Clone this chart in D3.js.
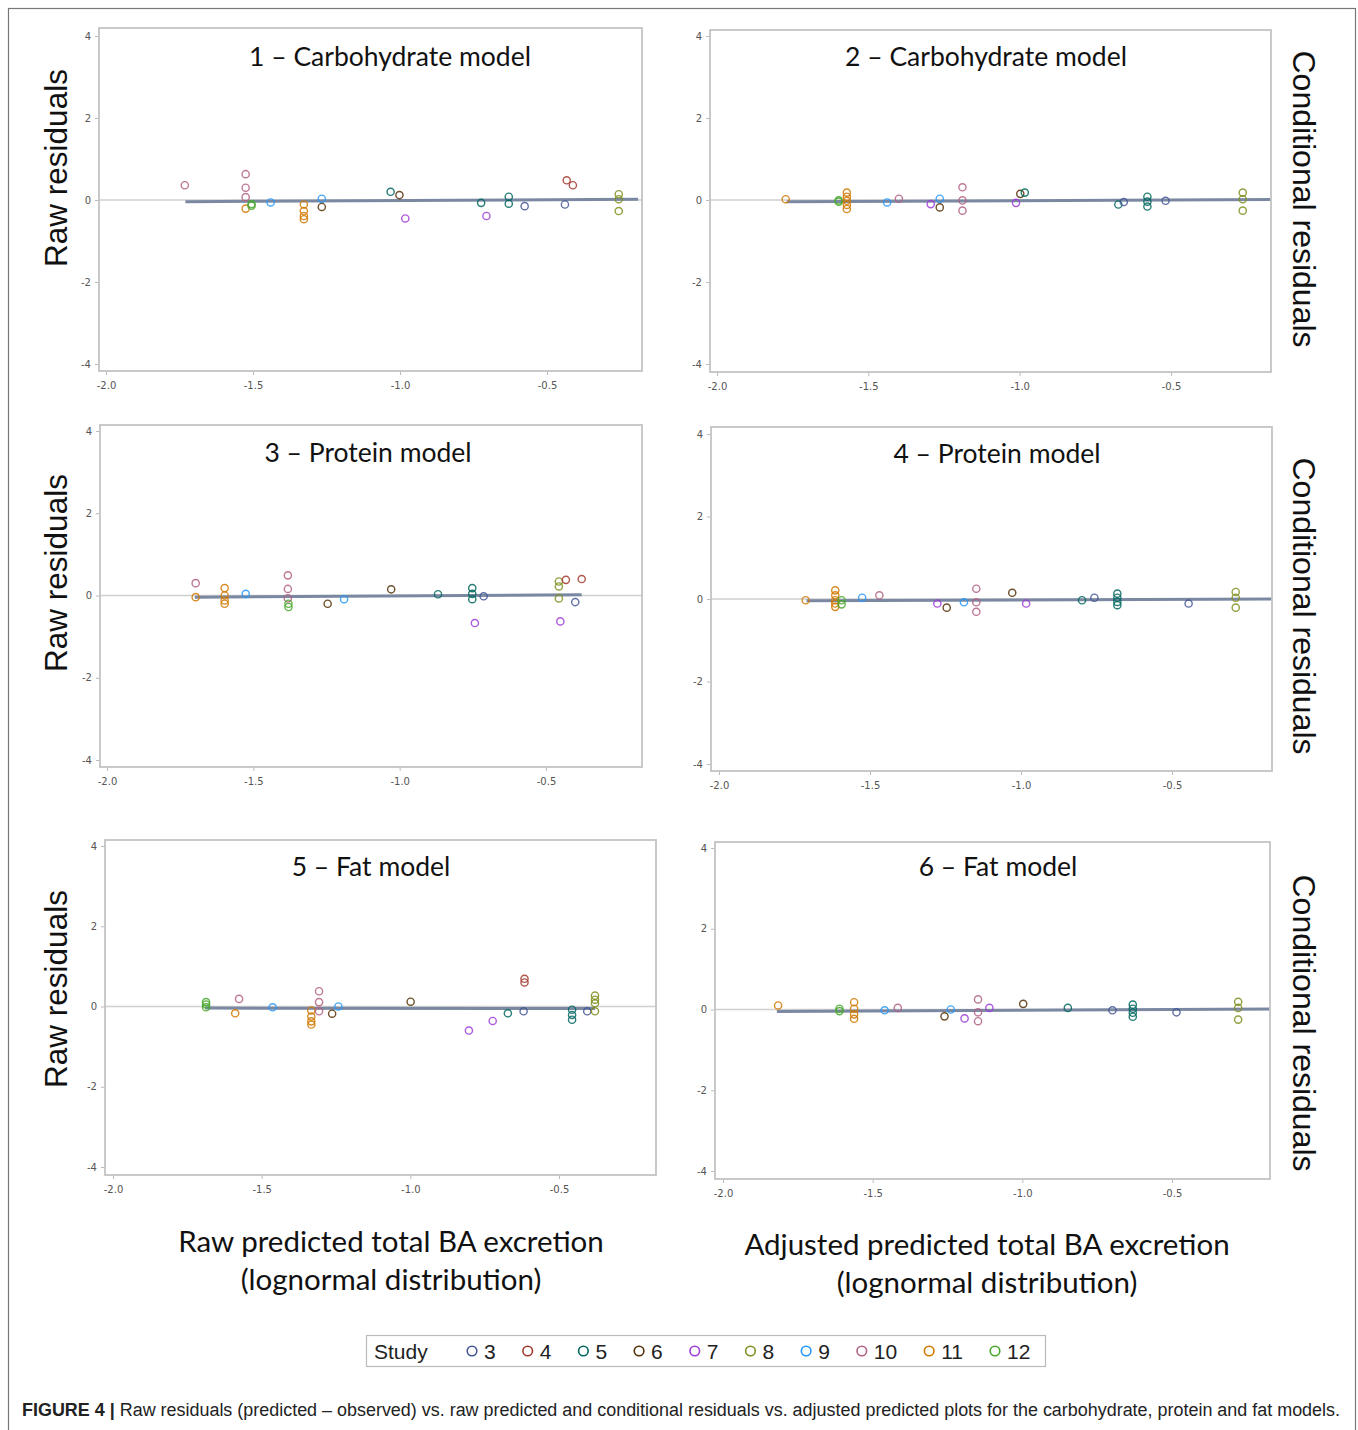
<!DOCTYPE html>
<html>
<head>
<meta charset="utf-8">
<script src="https://cdn.jsdelivr.net/npm/d3@7"></script>
<style>
  body { margin: 0; background: #fff; }
  svg { display: block; }
</style>
</head>
<body>
<svg id="figure" width="1358" height="1430"></svg>
<script>
// study legend + SAS default marker colours
const studies = [3, 4, 5, 6, 7, 8, 9, 10, 11, 12];
const studyColors = ["#445694", "#a23a2e", "#01665e", "#543005", "#9d3cdb",
  "#7f8e1f", "#2597fa", "#b26084", "#d17800", "#47a82a"];

const xTicks = [-2.0, -1.5, -1.0, -0.5];
const yTicks = [4, 2, 0, -2, -4];

const panelTitles = ["1 \u2013 Carbohydrate model", "2 \u2013 Carbohydrate model",
  "3 \u2013 Protein model", "4 \u2013 Protein model",
  "5 \u2013 Fat model", "6 \u2013 Fat model"];

// [study, predicted, residual]
const carbRaw = [
  [10, -1.732, 0.36], [10, -1.525, 0.63], [10, -1.525, 0.30], [10, -1.525, 0.07],
  [11, -1.525, -0.21], [12, -1.505, -0.10], [12, -1.505, -0.14], [9, -1.44, -0.06],
  [11, -1.327, -0.11], [11, -1.327, -0.27], [11, -1.327, -0.39], [11, -1.327, -0.47],
  [9, -1.266, 0.03], [6, -1.266, -0.17], [5, -1.032, 0.20], [6, -1.002, 0.12],
  [7, -0.982, -0.45], [5, -0.724, -0.07], [7, -0.706, -0.39], [5, -0.63, 0.08],
  [5, -0.63, -0.09], [3, -0.576, -0.15], [3, -0.439, -0.11], [4, -0.433, 0.48],
  [4, -0.412, 0.36], [8, -0.256, 0.14], [8, -0.256, 0.02], [8, -0.256, -0.27]
];
const carbAdj = [
  [11, -1.773, 0.02], [12, -1.598, -0.01], [12, -1.598, -0.04], [11, -1.571, 0.18],
  [11, -1.571, 0.08], [11, -1.571, -0.02], [11, -1.571, -0.12], [11, -1.571, -0.22],
  [9, -1.438, -0.06], [10, -1.399, 0.03], [7, -1.294, -0.10], [9, -1.264, 0.03],
  [6, -1.264, -0.18], [10, -1.189, 0.31], [10, -1.189, -0.01], [10, -1.189, -0.26],
  [7, -1.012, -0.07], [6, -0.998, 0.15], [5, -0.983, 0.18], [5, -0.674, -0.11],
  [3, -0.656, -0.05], [5, -0.578, 0.08], [5, -0.578, -0.04], [5, -0.578, -0.16],
  [3, -0.518, -0.02], [8, -0.263, 0.18], [8, -0.263, 0.02], [8, -0.263, -0.26]
];
const protRaw = [
  [10, -1.697, 0.30], [11, -1.697, -0.04], [11, -1.598, 0.18], [11, -1.598, 0.0],
  [11, -1.598, -0.12], [11, -1.598, -0.20], [9, -1.526, 0.04], [10, -1.382, 0.49],
  [10, -1.382, 0.16], [10, -1.382, -0.07], [12, -1.38, -0.20], [12, -1.38, -0.28],
  [6, -1.246, -0.20], [9, -1.19, -0.09], [6, -1.029, 0.15], [5, -0.869, 0.03],
  [5, -0.752, 0.18], [5, -0.752, 0.04], [5, -0.752, -0.09], [7, -0.743, -0.67],
  [3, -0.713, -0.02], [8, -0.456, 0.34], [8, -0.456, 0.22], [8, -0.456, -0.07],
  [7, -0.451, -0.63], [4, -0.432, 0.38], [3, -0.40, -0.16], [4, -0.378, 0.40]
];
const protAdj = [
  [11, -1.713, -0.03], [11, -1.615, 0.21], [11, -1.615, 0.09], [11, -1.615, -0.03],
  [11, -1.615, -0.11], [11, -1.615, -0.19], [12, -1.594, -0.03], [12, -1.594, -0.13],
  [9, -1.526, 0.03], [10, -1.469, 0.09], [7, -1.277, -0.11], [6, -1.246, -0.21],
  [9, -1.189, -0.08], [10, -1.148, 0.25], [10, -1.148, -0.08], [10, -1.148, -0.31],
  [6, -1.029, 0.15], [7, -0.983, -0.11], [5, -0.798, -0.03], [3, -0.757, 0.03],
  [5, -0.681, 0.13], [5, -0.681, 0.03], [5, -0.681, -0.07], [5, -0.681, -0.15],
  [3, -0.445, -0.11], [8, -0.289, 0.17], [8, -0.289, 0.03], [8, -0.289, -0.21]
];
const fatRaw = [
  [12, -1.687, 0.11], [12, -1.687, 0.05], [12, -1.687, -0.02], [10, -1.576, 0.19],
  [11, -1.589, -0.17], [9, -1.463, -0.02], [11, -1.333, -0.10], [11, -1.333, -0.25],
  [11, -1.333, -0.37], [11, -1.333, -0.45], [10, -1.307, 0.38], [10, -1.307, 0.11],
  [10, -1.307, -0.12], [6, -1.263, -0.18], [9, -1.242, 0.0], [6, -0.999, 0.12],
  [7, -0.803, -0.60], [7, -0.723, -0.36], [5, -0.672, -0.17], [4, -0.616, 0.69],
  [4, -0.616, 0.60], [3, -0.619, -0.12], [5, -0.456, -0.08], [5, -0.456, -0.21],
  [5, -0.456, -0.33], [3, -0.405, -0.12], [8, -0.379, 0.27], [8, -0.379, 0.17],
  [8, -0.379, 0.08], [8, -0.379, -0.12]
];
const fatAdj = [
  [11, -1.816, 0.10], [12, -1.611, 0.02], [12, -1.611, -0.04], [11, -1.562, 0.18],
  [11, -1.562, 0.02], [11, -1.562, -0.12], [11, -1.562, -0.23], [9, -1.46, -0.02],
  [10, -1.416, 0.04], [6, -1.26, -0.17], [9, -1.239, 0.0], [7, -1.193, -0.22],
  [10, -1.148, 0.25], [10, -1.148, -0.07], [10, -1.148, -0.29], [7, -1.11, 0.04],
  [6, -0.997, 0.14], [5, -0.848, 0.04], [3, -0.699, -0.02], [5, -0.631, 0.12],
  [5, -0.631, 0.02], [5, -0.631, -0.08], [5, -0.631, -0.18], [3, -0.485, -0.07],
  [8, -0.279, 0.19], [8, -0.279, 0.04], [8, -0.279, -0.25]
];

// fitted line end points [[x0, y0], [x1, y1]]
const fitLines = [
  [[-1.73, -0.04], [-0.19, 0.02]],
  [[-1.77, -0.04], [-0.17, 0.01]],
  [[-1.70, -0.04], [-0.378, 0.02]],
  [[-1.71, -0.04], [-0.17, 0.0]],
  [[-1.69, -0.04], [-0.379, -0.05]],
  [[-1.82, -0.05], [-0.17, 0.01]]
];

const legendTitle = "Study";
const leftLabel = "Raw residuals";
const rightLabel = "Conditional residuals";
const bottomLeftLabel = ["Raw predicted total BA excretion", "(lognormal distribution)"];
const bottomRightLabel = ["Adjusted predicted total BA excretion", "(lognormal distribution)"];
const captionBold = "FIGURE 4 |";
const captionText = " Raw residuals (predicted \u2013 observed) vs. raw predicted and conditional residuals vs. adjusted predicted plots for the carbohydrate, protein and fat models.";

// layout: frame = [left, top, right, bottom], xr = px of -2 / -0.5, yr = px of 4 / -4,
// title centre/baseline, row label vertical centre
const panels = [
  { data: carbRaw, frame: [99, 28, 642, 371], xr: [106, 547], yr: [36, 364], tx: 390, ty: 66, ly: 168 },
  { data: carbAdj, frame: [710, 30, 1271, 372], xr: [717, 1171], yr: [36, 364], tx: 986, ty: 66, ly: 199 },
  { data: protRaw, frame: [100, 425, 642, 767], xr: [107, 546], yr: [431, 760], tx: 368, ty: 462, ly: 573 },
  { data: protAdj, frame: [711, 427, 1272, 771], xr: [719, 1172], yr: [434, 764], tx: 997, ty: 463, ly: 606 },
  { data: fatRaw, frame: [105, 840, 656, 1175], xr: [113, 559], yr: [846, 1167], tx: 371, ty: 876, ly: 989 },
  { data: fatAdj, frame: [715, 842, 1270, 1179], xr: [723, 1172], yr: [848, 1171], tx: 998, ty: 876, ly: 1023 }
];

const colorOf = d3.scaleOrdinal().domain(studies).range(studyColors);
const svg = d3.select("#figure");

// outer figure border
svg.append("rect")
  .attr("x", 8.5).attr("y", 8.5)
  .attr("width", 1347).attr("height", 1440)
  .attr("fill", "none")
  .attr("stroke", "#777")
  .attr("stroke-width", 1.2);

function drawPanel(p, i) {
  const [l, t, r, b] = p.frame;
  const x = d3.scaleLinear().domain([-2, -0.5]).range(p.xr);
  const y = d3.scaleLinear().domain([4, -4]).range(p.yr);
  const g = svg.append("g");

  g.append("clipPath").attr("id", `clip${i}`)
    .append("rect").attr("x", l).attr("y", t).attr("width", r - l).attr("height", b - t);

  // axes, no domain line (frame drawn below)
  const yAxis = g.append("g")
    .attr("transform", `translate(${l},0)`)
    .call(d3.axisLeft(y).tickValues(yTicks).tickSize(4).tickPadding(4).tickFormat((d) => String(d)));
  const xAxis = g.append("g")
    .attr("transform", `translate(0,${b})`)
    .call(d3.axisBottom(x).tickValues(xTicks).tickSize(4).tickPadding(7).tickFormat((d) => d.toFixed(1)));
  [yAxis, xAxis].forEach((ax) => {
    ax.select(".domain").remove();
    ax.selectAll("line").attr("stroke", "#bbb");
    ax.selectAll("text")
      .attr("fill", "#555")
      .style("font-family", "DejaVu Sans, sans-serif")
      .style("font-size", "10px");
  });

  // zero reference line
  g.append("line")
    .attr("x1", l).attr("x2", r)
    .attr("y1", y(0)).attr("y2", y(0))
    .attr("stroke", "#cfcfcf")
    .attr("stroke-width", 1.6);

  // fitted line
  g.append("path")
    .datum(fitLines[i])
    .attr("clip-path", `url(#clip${i})`)
    .attr("d", d3.line().x((d) => x(d[0])).y((d) => y(d[1])))
    .attr("fill", "none")
    .attr("stroke", "#7a88a2")
    .attr("stroke-width", 3);

  // residual markers
  g.append("g")
    .attr("clip-path", `url(#clip${i})`)
    .selectAll("circle")
    .data(p.data)
    .enter()
    .append("circle")
    .attr("cx", (d) => x(d[1]))
    .attr("cy", (d) => y(d[2]))
    .attr("r", 3.6)
    .attr("fill", "none")
    .attr("stroke", (d) => colorOf(d[0]))
    .attr("stroke-width", 1.4)
    .attr("stroke-opacity", 0.85);

  // frame
  g.append("rect")
    .attr("x", l).attr("y", t)
    .attr("width", r - l).attr("height", b - t)
    .attr("fill", "none")
    .attr("stroke", "#c4c4c4")
    .attr("stroke-width", 1.8);

  g.append("text")
    .attr("x", p.tx).attr("y", p.ty)
    .attr("text-anchor", "middle")
    .style("font-family", "Lato, sans-serif")
    .style("font-size", "26.5px")
    .attr("fill", "#111")
    .text(panelTitles[i]);

  // row labels
  if (i % 2 === 0) {
    svg.append("text")
      .attr("transform", `translate(67,${p.ly}) rotate(-90)`)
      .attr("text-anchor", "middle")
      .style("font-family", "Liberation Sans, Arial, sans-serif")
      .style("font-size", "31.5px")
      .attr("fill", "#111")
      .text(leftLabel);
  } else {
    svg.append("text")
      .attr("transform", `translate(1293,${p.ly}) rotate(90)`)
      .attr("text-anchor", "middle")
      .style("font-family", "Liberation Sans, Arial, sans-serif")
      .style("font-size", "32px")
      .attr("fill", "#111")
      .text(rightLabel);
  }
}

panels.forEach(drawPanel);

// x axis titles under the columns
function drawAxisTitle(lines, cx, y0) {
  svg.append("g").selectAll("text")
    .data(lines)
    .enter()
    .append("text")
    .attr("x", cx)
    .attr("y", (d, k) => y0 + k * 38)
    .attr("text-anchor", "middle")
    .style("font-family", "Lato, sans-serif")
    .style("font-size", "29.5px")
    .attr("fill", "#111")
    .text((d) => d);
}
drawAxisTitle(bottomLeftLabel, 391, 1252);
drawAxisTitle(bottomRightLabel, 987, 1255);

// legend
const legend = svg.append("g");
legend.append("rect")
  .attr("x", 366.5).attr("y", 1335.5)
  .attr("width", 679).attr("height", 31)
  .attr("fill", "#fff")
  .attr("stroke", "#bbb")
  .attr("stroke-width", 1.2);
legend.append("text")
  .attr("x", 374).attr("y", 1359)
  .style("font-family", "Liberation Sans, Arial, sans-serif")
  .style("font-size", "21px")
  .attr("fill", "#222")
  .text(legendTitle);

let cx = 472;
studies.forEach((s) => {
  legend.append("circle")
    .attr("cx", cx).attr("cy", 1351)
    .attr("r", 4.8)
    .attr("fill", "none")
    .attr("stroke", colorOf(s))
    .attr("stroke-width", 1.6);
  const label = legend.append("text")
    .attr("x", cx + 12).attr("y", 1359)
    .style("font-family", "Liberation Sans, Arial, sans-serif")
    .style("font-size", "21px")
    .attr("fill", "#222")
    .text(String(s));
  cx += 44 + label.node().getComputedTextLength();
});

// caption
const caption = svg.append("text")
  .attr("x", 22).attr("y", 1416)
  .style("font-family", "Liberation Sans, Arial, sans-serif")
  .style("font-size", "18px")
  .attr("fill", "#222");
caption.append("tspan").attr("font-weight", "bold").text(captionBold);
caption.append("tspan").text(captionText);
caption.attr("textLength", 1318).attr("lengthAdjust", "spacingAndGlyphs");
</script>
</body>
</html>
